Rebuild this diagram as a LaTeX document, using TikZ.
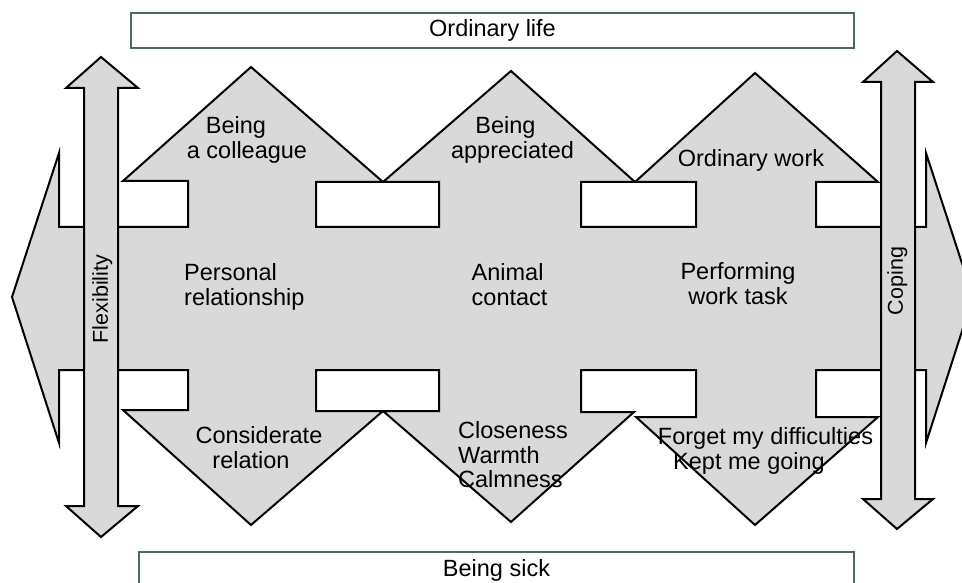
\documentclass[tikz,border=0pt]{standalone}
\usepackage{fontspec}
\setmainfont{Liberation Sans}
\definecolor{shapegray}{RGB}{217,217,217}
\definecolor{boxline}{RGB}{75,105,105}
\begin{document}
\begin{tikzpicture}[x=1pt,y=-1pt,
  shapefill/.style={fill=shapegray, draw=black, line width=2pt, line join=miter},
  box/.style={draw=boxline, fill=white, line width=1.6pt},
  lbl/.style={inner sep=0pt, font=\fontsize{23.5}{24.5}\selectfont},
  vlbl/.style={inner sep=0pt, font=\fontsize{21.5}{24}\selectfont, rotate=90}]
\useasboundingbox (0,0) rectangle (962,583);
\clip (0,0) rectangle (962,583);
% boxes
\node[box, lbl, minimum width=723pt, minimum height=35pt] (life) at (492.5,30.5) {Ordinary life};
\node[box, lbl, minimum width=715pt, minimum height=36pt] (sick) at (496.5,570) {Being sick};
% main shape
\path[shapefill] (12,297) -- (59,153) -- (59,227) -- (188,227) -- (188,181) -- (123,181)
  -- (251,67) -- (383,182) -- (316,182) -- (316,227) -- (439,227) -- (439,182) -- (383,182)
  -- (511,71) -- (635,182) -- (581,182) -- (581,227) -- (696,227) -- (696,182) -- (635,182)
  -- (755,73) -- (878,182) -- (816,182) -- (816,227) -- (926,227) -- (926,153) -- (973,297)
  -- (926,443) -- (926,370) -- (816,370) -- (816,417) -- (878,417) -- (755,525) -- (636,417)
  -- (696,417) -- (696,370) -- (581,370) -- (581,412) -- (634,412) -- (511,522) -- (383,411)
  -- (439,411) -- (439,370) -- (316,370) -- (316,411) -- (383,411) -- (251,525) -- (123,410)
  -- (188,410) -- (188,370) -- (59,370) -- (59,443) -- cycle;
% vertical arrows
\path[shapefill] (101,57) -- (138,88) -- (118,88) -- (118,506) -- (138,506) -- (101,537)
  -- (66,506) -- (84,506) -- (84,88) -- (66,88) -- cycle;
\path[shapefill] (897,51) -- (933,82) -- (915,82) -- (915,499) -- (933,499) -- (897,529)
  -- (863,499) -- (881,499) -- (881,82) -- (863,82) -- cycle;
% labels
\node[lbl, anchor=north, align=center] (colleague) at (247,116.7) {Being\hspace*{22pt}\\a colleague};
\node[lbl, anchor=north, align=center] (appreciated) at (512.5,116.7) {Being\hspace*{14pt}\\appreciated};
\node[lbl, anchor=north, align=center] (ordwork) at (751,149) {Ordinary work};
\node[lbl, anchor=north west, align=left] (personal) at (184,263.3) {Personal\\relationship};
\node[lbl, anchor=north west, align=left] (animal) at (471.5,263.3) {Animal\\contact};
\node[lbl, anchor=north, align=center] (performing) at (738,262.7) {Performing\\work task};
\node[lbl, anchor=north, align=center] (considerate) at (259,426.7) {Considerate\\relation\hspace*{16pt}};
\node[lbl, anchor=north west, align=left] (closeness) at (458,421.7) {Closeness\\Warmth\\Calmness};
\node[lbl, anchor=north, align=center] (forget) at (765.5,427.7) {Forget my difficulties\\Kept me going\hspace*{33pt}};
\node[vlbl] (flex) at (102.4,299) {Flexibility};
\node[vlbl] (coping) at (897.4,281) {Coping};
\end{tikzpicture}
\end{document}
